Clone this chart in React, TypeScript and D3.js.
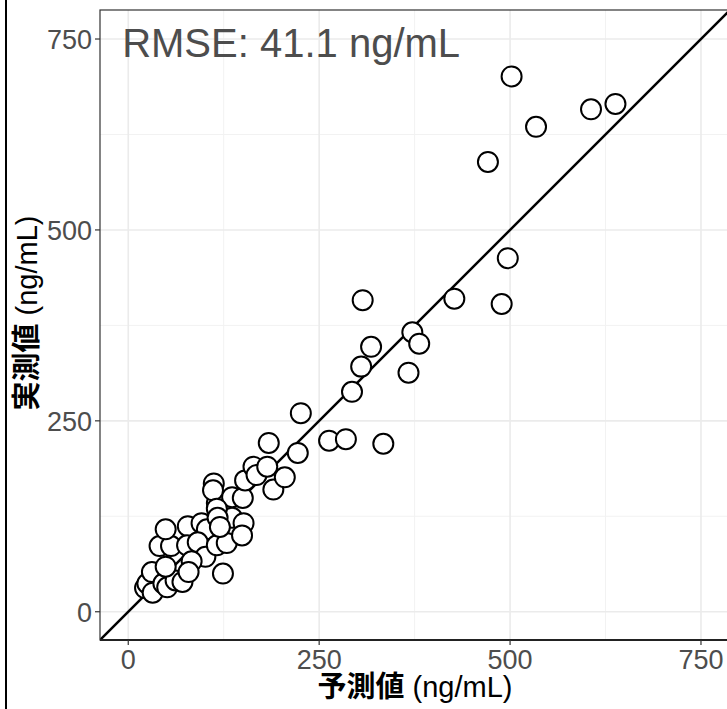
import React from 'react';
import * as d3 from 'd3';

// predicted (x) vs observed (y), ng/mL
const predicted = [
  22, 25, 32, 31, 46, 51, 62, 71, 49, 41, 56, 49, 78, 96, 103, 77, 91, 101, 83, 79,
  116, 124, 116, 118, 127, 136, 136, 151, 150, 112, 111, 116, 153, 164, 168, 182, 184,
  190, 205, 222, 226, 263, 285, 334, 293, 305, 318, 307, 372, 381, 367, 427, 489, 497,
  471, 502, 534, 606, 638, 129, 117, 149, 120,
];
const observed = [
  31, 37, 25, 52, 37, 32, 41, 39, 59, 86, 86, 108, 112, 116, 108, 87, 91, 72, 66, 52,
  87, 50, 142, 133, 142, 123, 150, 116, 149, 168, 159, 135, 172, 190, 179, 190, 221,
  160, 176, 208, 260, 224, 226, 220, 288, 321, 347, 408, 366, 351, 313, 410, 403, 463,
  589, 701, 635, 658, 665, 90, 123, 100, 111,
];
const ticks = [0, 250, 500, 750];
const minorTicks = [125, 375, 625];
const annotation = 'RMSE: 41.1 ng/mL';
const xTitle = ['予測値', ' (ng/mL)'];
const yTitle = ['実測値', ' (ng/mL)'];

const W = 727;
const H = 709;
const panel = { left: 100, right: 730, top: 10, bottom: 640 };
const domain: [number, number] = [-37, 788];

export default function App() {
  const x = d3.scaleLinear().domain(domain).range([panel.left, panel.right]);
  const y = d3.scaleLinear().domain(domain).range([panel.bottom, panel.top]);
  const pts = predicted.map((p, i) => [p, observed[i]]);
  const font = 'Arial, "Liberation Sans", "Noto Sans CJK JP", sans-serif';

  return (
    <svg width={W} height={H} style={{ position: 'absolute', left: 0, top: 0, background: '#fff' }} fontFamily={font}>
      <defs>
        <clipPath id="clip">
          <rect x={panel.left} y={panel.top} width={panel.right - panel.left} height={panel.bottom - panel.top} />
        </clipPath>
      </defs>
      <line x1={6} x2={6} y1={0} y2={H} stroke="#000" strokeWidth={2} />
      <g clipPath="url(#clip)">
        {minorTicks.map((t) => (
          <g key={'m' + t}>
            <line x1={x(t)} x2={x(t)} y1={panel.top} y2={panel.bottom} stroke="#f2f2f2" strokeWidth={1} />
            <line x1={panel.left} x2={panel.right} y1={y(t)} y2={y(t)} stroke="#f2f2f2" strokeWidth={1} />
          </g>
        ))}
        {ticks.map((t) => (
          <g key={'g' + t}>
            <line x1={x(t)} x2={x(t)} y1={panel.top} y2={panel.bottom} stroke="#ebebeb" strokeWidth={1.6} />
            <line x1={panel.left} x2={panel.right} y1={y(t)} y2={y(t)} stroke="#ebebeb" strokeWidth={1.6} />
          </g>
        ))}
        <line x1={x(domain[0])} y1={y(domain[0])} x2={x(domain[1])} y2={y(domain[1])} stroke="#000" strokeWidth={2.5} />
        {pts.map(([p, o], i) => (
          <circle key={i} cx={x(p)} cy={y(o)} r={10} fill="#fff" stroke="#000" strokeWidth={2} />
        ))}
      </g>
      <rect x={panel.left} y={panel.top} width={panel.right - panel.left} height={panel.bottom - panel.top} fill="none" stroke="#333" strokeWidth={1.2} />
      <line x1={panel.left} x2={panel.right} y1={panel.bottom} y2={panel.bottom} stroke="#222" strokeWidth={2} />
      {ticks.map((t) => (
        <g key={'t' + t}>
          <line x1={x(t)} x2={x(t)} y1={panel.bottom} y2={panel.bottom + 5} stroke="#333" strokeWidth={1.2} />
          <text x={x(t)} y={panel.bottom + 29} textAnchor="middle" fontSize={27} fill="#4d4d4d">{t}</text>
          <line x1={panel.left - 5} x2={panel.left} y1={y(t)} y2={y(t)} stroke="#333" strokeWidth={1.2} />
          <text x={panel.left - 8} y={y(t) + 10} textAnchor="end" fontSize={27} fill="#4d4d4d">{t}</text>
        </g>
      ))}
      <text x={x(-8)} y={57} fontSize={40} fill="#4d4d4d">{annotation}</text>
      <text x={(panel.left + panel.right) / 2} y={697} textAnchor="middle" fontSize={29} fill="#000">
        <tspan fontWeight="bold">{xTitle[0]}</tspan>
        <tspan>{xTitle[1]}</tspan>
      </text>
      <text transform={`translate(37, ${(panel.top + panel.bottom) / 2 - 12}) rotate(-90)`} textAnchor="middle" fontSize={29} fill="#000">
        <tspan fontWeight="bold">{yTitle[0]}</tspan>
        <tspan>{yTitle[1]}</tspan>
      </text>
    </svg>
  );
}
